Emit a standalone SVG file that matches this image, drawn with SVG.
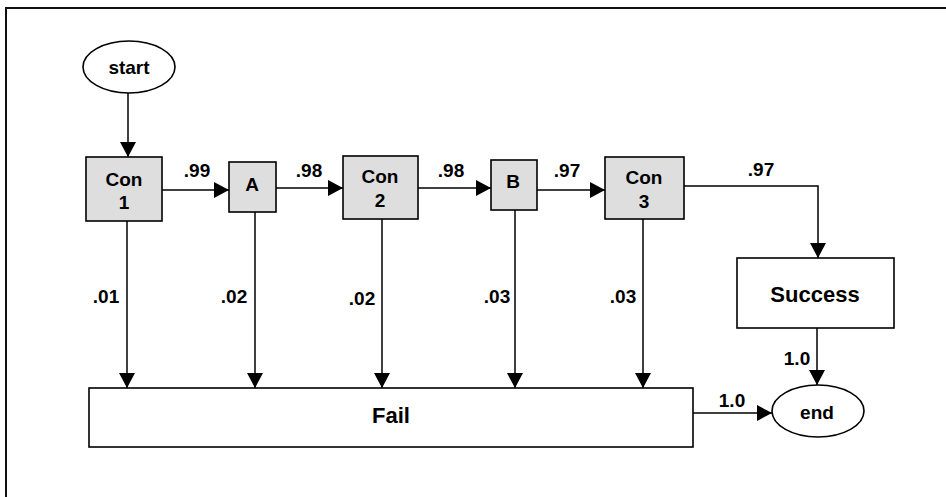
<svg xmlns="http://www.w3.org/2000/svg" width="946" height="497" viewBox="0 0 946 497">
<style>
  .n { stroke: #000; stroke-width: 1.6; }
  .g { fill: #dedede; }
  .w { fill: #fff; }
  .t { font-family: "Liberation Sans", Arial, sans-serif; font-weight: bold; font-size: 19px; fill: #000; text-anchor: middle; }
  .big { font-size: 22px; }
  .c { fill: none; stroke: #000; stroke-width: 1.5; }
</style>
<defs>
  <marker id="ah" markerUnits="userSpaceOnUse" markerWidth="15" markerHeight="16" viewBox="0 0 15 16" refX="15" refY="8" orient="auto">
    <path d="M0,0 L15,8 L0,16 z" fill="#000"/>
  </marker>
</defs>
<rect x="0" y="0" width="946" height="497" fill="#fff"/>
<rect x="6" y="8" width="970" height="520" fill="none" stroke="#111" stroke-width="2"/>

<g id="connectors">
  <line class="c" x1="128" y1="93" x2="128" y2="157" marker-end="url(#ah)"/>
  <line class="c" x1="162" y1="190" x2="229" y2="190" marker-end="url(#ah)"/>
  <line class="c" x1="276" y1="188" x2="343" y2="188" marker-end="url(#ah)"/>
  <line class="c" x1="418" y1="188" x2="491" y2="188" marker-end="url(#ah)"/>
  <line class="c" x1="537" y1="190" x2="605" y2="190" marker-end="url(#ah)"/>
  <path class="c" d="M684,186 H818 V258" marker-end="url(#ah)"/>
  <line class="c" x1="817" y1="328" x2="817" y2="385" marker-end="url(#ah)"/>
  <line class="c" x1="693" y1="413" x2="772" y2="413" marker-end="url(#ah)"/>
  <line class="c" x1="127" y1="221" x2="127" y2="388" marker-end="url(#ah)"/>
  <line class="c" x1="255" y1="212" x2="255" y2="388" marker-end="url(#ah)"/>
  <line class="c" x1="382" y1="219" x2="382" y2="388" marker-end="url(#ah)"/>
  <line class="c" x1="515" y1="210" x2="515" y2="388" marker-end="url(#ah)"/>
  <line class="c" x1="643" y1="219" x2="643" y2="388" marker-end="url(#ah)"/>
  <text class="t" x="197" y="177">.99</text>
  <text class="t" x="309" y="177">.98</text>
  <text class="t" x="451" y="177">.98</text>
  <text class="t" x="567" y="177">.97</text>
  <text class="t" x="761" y="176">.97</text>
  <text class="t" x="106" y="303">.01</text>
  <text class="t" x="234" y="303">.02</text>
  <text class="t" x="362" y="305">.02</text>
  <text class="t" x="497" y="303">.03</text>
  <text class="t" x="623" y="303">.03</text>
  <text class="t" x="797" y="365">1.0</text>
  <text class="t" x="732" y="407">1.0</text>
</g>

<g id="start">
  <ellipse class="n w" cx="129" cy="67" rx="46" ry="26"/>
  <text class="t" x="129" y="74">start</text>
</g>
<g id="con1">
  <rect class="n g" x="86" y="157" width="76" height="64"/>
  <text class="t" x="124" y="186">Con</text>
  <text class="t" x="124" y="209">1</text>
</g>
<g id="a">
  <rect class="n g" x="229" y="162" width="47" height="50"/>
  <text class="t" x="252" y="191">A</text>
</g>
<g id="con2">
  <rect class="n g" x="343" y="156" width="75" height="63"/>
  <text class="t" x="380" y="183">Con</text>
  <text class="t" x="380" y="207">2</text>
</g>
<g id="b">
  <rect class="n g" x="491" y="160" width="46" height="50"/>
  <text class="t" x="513" y="188">B</text>
</g>
<g id="con3">
  <rect class="n g" x="605" y="157" width="79" height="62"/>
  <text class="t" x="644" y="184">Con</text>
  <text class="t" x="644" y="208">3</text>
</g>
<g id="success">
  <rect class="n w" x="737" y="258" width="157" height="70"/>
  <text class="t big" x="815" y="302">Success</text>
</g>
<g id="fail">
  <rect class="n w" x="89" y="388" width="604" height="59"/>
  <text class="t big" x="391" y="423">Fail</text>
</g>
<g id="end">
  <ellipse class="n w" cx="818" cy="411" rx="46" ry="26"/>
  <text class="t" x="817" y="419">end</text>
</g>
</svg>
